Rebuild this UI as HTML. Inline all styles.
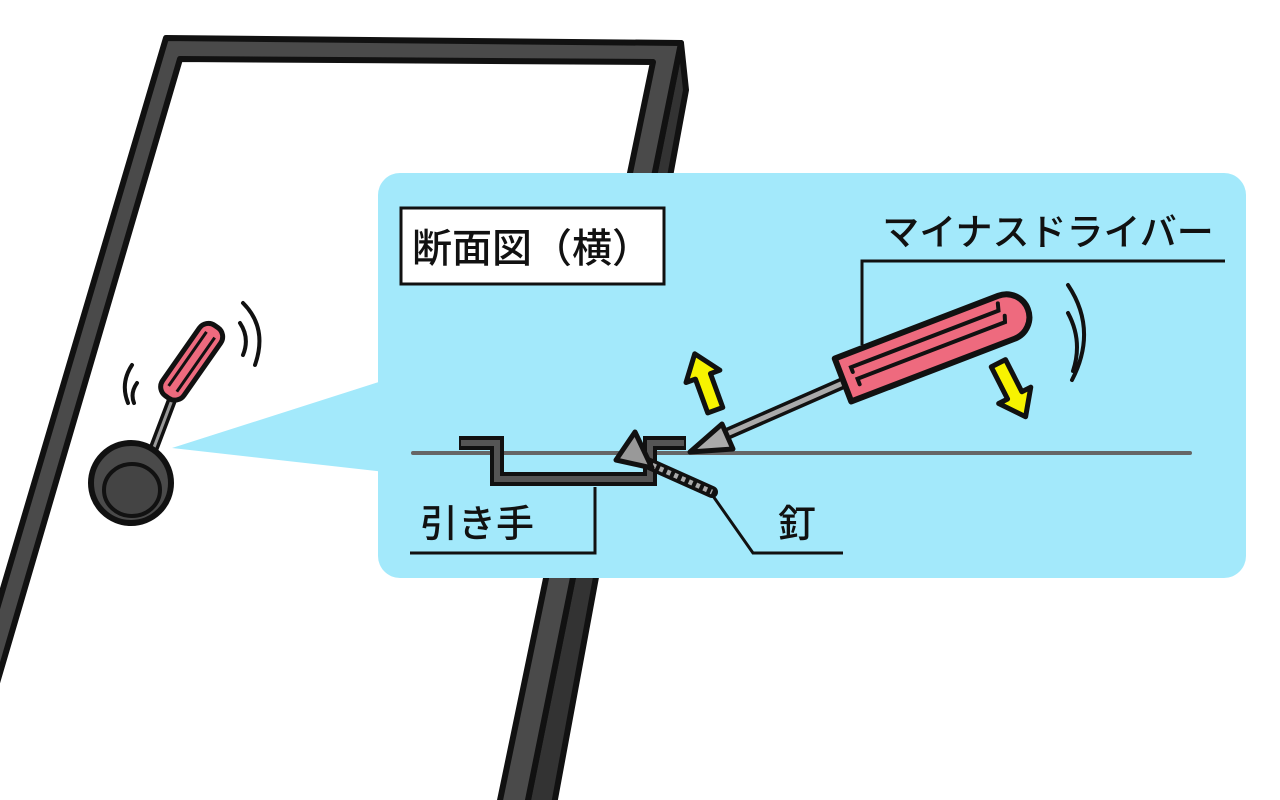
<!DOCTYPE html>
<html><head><meta charset="utf-8"><style>
html,body{margin:0;padding:0;background:#fff;}
svg{display:block}
text{font-family:"Liberation Sans","Noto Sans CJK JP",sans-serif;fill:#111;font-weight:500;}
</style></head><body>
<svg width="1280" height="800" viewBox="0 0 1280 800" xmlns="http://www.w3.org/2000/svg">
<!-- door frame -->
<polygon points="681,43 686,90 553,810 526,810" fill="#333" stroke="#111" stroke-width="6" stroke-linejoin="round"/>
<polygon points="-30,700 166,38 681,43 526,810 498,810 653,62 180,59 -8,700" fill="#4a4a4a" stroke="#111" stroke-width="6" stroke-linejoin="round"/>
<!-- callout -->
<polygon points="172,448 385,380 385,472" fill="#a3e9fb"/>
<rect x="378" y="173" width="868" height="405" rx="22" fill="#a3e9fb"/>
<!-- small screwdriver + knob -->
<line x1="150" y1="458" x2="172" y2="400" stroke="#111" stroke-width="10" stroke-linecap="round"/>
<line x1="150" y1="458" x2="172" y2="400" stroke="#999" stroke-width="3"/>
<g transform="translate(167,397) rotate(-55)">
<rect x="0" y="-13" width="86" height="26" rx="11" fill="#ee6a7e" stroke="#111" stroke-width="5"/>
<line x1="10" y1="-5" x2="76" y2="-5" stroke="#111" stroke-width="3"/>
<line x1="10" y1="5" x2="76" y2="5" stroke="#111" stroke-width="3"/>
</g>
<circle cx="131" cy="483" r="40" fill="#4a4a4a" stroke="#111" stroke-width="6"/>
<ellipse cx="132" cy="490" rx="28" ry="26" fill="#444" stroke="#111" stroke-width="4"/>
<path d="M132,365 q-12,18 -4,38 M137,383 q-7,10 -3,20" fill="none" stroke="#111" stroke-width="4" stroke-linecap="round"/>
<path d="M240,323 q10,15 3,32 M243,303 q25,25 12,62" fill="none" stroke="#111" stroke-width="4" stroke-linecap="round"/>
<!-- label box -->
<rect x="401" y="208" width="263" height="76" fill="#fff" stroke="#111" stroke-width="3"/>
<text x="532" y="262" font-size="40" text-anchor="middle">断面図（横）</text>
<text x="1048" y="245" font-size="37" text-anchor="middle">マイナスドライバー</text>
<path d="M1225,261 L862,261 L862,345" fill="none" stroke="#111" stroke-width="3"/>
<!-- surface line -->
<line x1="413" y1="453" x2="1190" y2="453" stroke="#666" stroke-width="4" stroke-linecap="round"/>
<!-- pull handle -->
<path d="M459,443 L497,443 L497,479 L650,479 L650,443 L686,443" fill="none" stroke="#111" stroke-width="14" stroke-linejoin="miter"/>
<path d="M461,443 L497,443 L497,479 L650,479 L650,443 L684,443" fill="none" stroke="#555" stroke-width="6"/>
<!-- nail -->
<line x1="645" y1="462" x2="712" y2="492" stroke="#111" stroke-width="12" stroke-linecap="round"/>
<line x1="645" y1="462" x2="712" y2="492" stroke="#aaa" stroke-width="5" stroke-dasharray="4 4"/>
<polygon points="616,460 635,432 652,468" fill="#999" stroke="#111" stroke-width="5" stroke-linejoin="round"/>
<!-- big screwdriver -->
<line x1="720" y1="437" x2="850" y2="380" stroke="#111" stroke-width="12"/>
<line x1="720" y1="437" x2="850" y2="380" stroke="#aaa" stroke-width="5"/>
<polygon points="690,452 722,424 733,449" fill="#aaa" stroke="#111" stroke-width="5" stroke-linejoin="round"/>
<g transform="translate(843,380) rotate(-21)">
<path d="M0,-23 L175,-23 A23,23 0 0 1 175,23 L0,23 Z" fill="#ee6a7e" stroke="#111" stroke-width="6" stroke-linejoin="round"/>
<path d="M12,-4 L12,-9 L170,-9 L172,-16 M14,10 L14,4 L172,4 L174,-2" fill="none" stroke="#111" stroke-width="4" stroke-linecap="round"/>
</g>
<path d="M1068,285 q30,45 4,95 M1068,313 q15,28 5,58" fill="none" stroke="#111" stroke-width="4" stroke-linecap="round"/>
<!-- yellow arrows -->
<g transform="translate(705,382) rotate(-20)">
<polygon points="0,-30 -18,-6 -8,-6 -8,30 8,30 8,-6 18,-6" fill="#f7f300" stroke="#111" stroke-width="5" stroke-linejoin="round"/>
</g>
<g transform="translate(1012,390) rotate(-27)">
<polygon points="0,30 -18,6 -8,6 -8,-30 8,-30 8,6 18,6" fill="#f7f300" stroke="#111" stroke-width="5" stroke-linejoin="round"/>
</g>
<!-- labels -->
<text x="420" y="537" font-size="38">引き手</text>
<path d="M410,553 L595,553 L595,487" fill="none" stroke="#111" stroke-width="3"/>
<text x="778" y="537" font-size="38">釘</text>
<path d="M713,496 L753,553 L843,553" fill="none" stroke="#111" stroke-width="3"/>
</svg>
</body></html>
